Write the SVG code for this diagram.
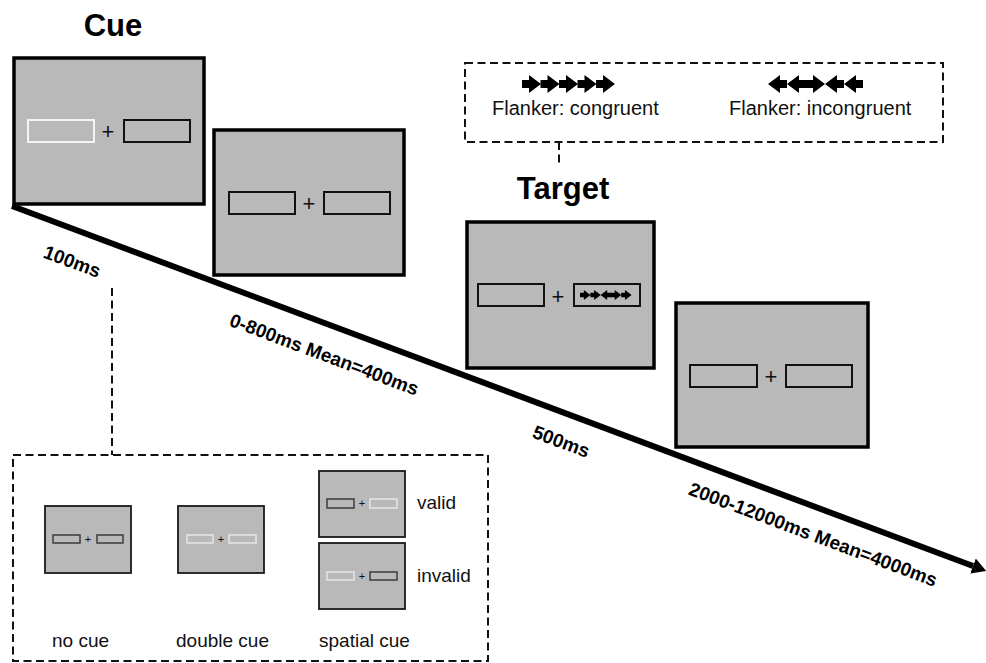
<svg xmlns="http://www.w3.org/2000/svg" xmlns:xlink="http://www.w3.org/1999/xlink" width="986" height="663" viewBox="0 0 986 663">
<defs>
<style>
.frame{fill:#b9b9b9;stroke:#000;stroke-width:3.5}
.sframe{fill:#b9b9b9;stroke:#1a1a1a;stroke-width:1.8}
.ibk{fill:none;stroke:#111;stroke-width:2}
.iwh{fill:none;stroke:#f4f4f4;stroke-width:2}
.sbk{fill:none;stroke:#333;stroke-width:1.4}
.swh{fill:none;stroke:#eaeaea;stroke-width:1.4}
.plus{font-family:"Liberation Sans",Arial,sans-serif;font-size:22px;fill:#111;text-anchor:middle}
.splus{font-family:"Liberation Sans",Arial,sans-serif;font-size:11px;fill:#111;text-anchor:middle}
.title{font-family:"Liberation Sans",Arial,sans-serif;font-size:31px;font-weight:bold;fill:#000}
.tl{font-family:"Liberation Sans",Arial,sans-serif;font-size:19px;font-weight:bold;fill:#000;text-anchor:middle}
.lbl{font-family:"Liberation Sans",Arial,sans-serif;font-size:19px;fill:#111}
.flk{font-family:"Liberation Sans",Arial,sans-serif;font-size:20px;fill:#111}
.dash{fill:none;stroke:#111;stroke-width:2;stroke-dasharray:8 4.5}
</style>
<path id="ar" d="M0,-4 H7 V-9 L19,0 L7,9 V4 H0 Z" fill="#000"/>
<marker id="head" markerUnits="userSpaceOnUse" viewBox="0 0 14 16" refX="0" refY="8" markerWidth="14" markerHeight="16" orient="auto">
<path d="M0,0 L14,8 L0,16 Z" fill="#000"/>
</marker>
</defs>
<rect width="986" height="663" fill="#fff"/>

<g id="connectors">
<line x1="12" y1="206" x2="973" y2="566" stroke="#000" stroke-width="6" marker-end="url(#head)"/>
<line class="dash" x1="112" y1="288" x2="112" y2="455"/>
<line class="dash" x1="559" y1="142" x2="559" y2="166"/>
</g>

<g id="timeline-labels">
<text class="tl" transform="translate(72,262) rotate(20.6)" y="6">100ms</text>
<text class="tl" transform="translate(324,355) rotate(20.6)" y="6">0-800ms Mean=400ms</text>
<text class="tl" transform="translate(561,442) rotate(20.6)" y="6">500ms</text>
<text class="tl" transform="translate(813,535) rotate(20.6)" y="6">2000-12000ms Mean=4000ms</text>
</g>

<g id="cue-title"><text class="title" x="113" y="36" text-anchor="middle">Cue</text></g>
<g id="target-title"><text class="title" x="563" y="199" text-anchor="middle">Target</text></g>

<g id="frame-cue">
<rect class="frame" x="14" y="58" width="190" height="146"/>
<rect class="iwh" x="28" y="120" width="66" height="22"/>
<rect class="ibk" x="124" y="120" width="66" height="22"/>
<text class="plus" x="108" y="139">+</text>
</g>

<g id="frame-fixation1">
<rect class="frame" x="214" y="130" width="190" height="145"/>
<rect class="ibk" x="229" y="192" width="66" height="22"/>
<rect class="ibk" x="324" y="192" width="66" height="22"/>
<text class="plus" x="309" y="211">+</text>
</g>

<g id="frame-target">
<rect class="frame" x="467" y="222" width="187" height="146"/>
<rect class="ibk" x="478" y="284" width="66" height="22"/>
<rect class="ibk" x="574" y="284" width="66" height="22"/>
<text class="plus" x="558" y="304">+</text>
<g transform="translate(580,295) scale(0.55)">
<use xlink:href="#ar" x="0"/>
<use xlink:href="#ar" x="18.7"/>
<use xlink:href="#ar" transform="translate(56.4,0) scale(-1,1)"/>
<use xlink:href="#ar" x="56.1"/>
<use xlink:href="#ar" x="74.8"/>
</g>
</g>

<g id="frame-fixation2">
<rect class="frame" x="676" y="303" width="192" height="144"/>
<rect class="ibk" x="690" y="365" width="67" height="22"/>
<rect class="ibk" x="786" y="365" width="66" height="22"/>
<text class="plus" x="771" y="384">+</text>
</g>

<g id="flanker-box">
<rect class="dash" x="465" y="63" width="478" height="79"/>
<g transform="translate(522,84)">
<use xlink:href="#ar" x="0"/>
<use xlink:href="#ar" x="18.5"/>
<use xlink:href="#ar" x="37"/>
<use xlink:href="#ar" x="55.5"/>
<use xlink:href="#ar" x="74"/>
</g>
<g transform="translate(768,84)">
<use xlink:href="#ar" transform="translate(19,0) scale(-1,1)"/>
<use xlink:href="#ar" transform="translate(38,0) scale(-1,1)"/>
<use xlink:href="#ar" x="38"/>
<use xlink:href="#ar" transform="translate(76,0) scale(-1,1)"/>
<use xlink:href="#ar" transform="translate(95,0) scale(-1,1)"/>
</g>
<text class="flk" x="492" y="115">Flanker: congruent</text>
<text class="flk" x="729" y="115">Flanker: incongruent</text>
</g>

<g id="cue-types-box">
<rect class="dash" x="13" y="455" width="475" height="206"/>
<g id="no-cue">
<rect class="sframe" x="45" y="506" width="86" height="67"/>
<rect class="sbk" x="53" y="535" width="27" height="8"/>
<rect class="sbk" x="97" y="535" width="26" height="8"/>
<text class="splus" x="88" y="543">+</text>
<text class="lbl" x="52" y="647">no cue</text>
</g>
<g id="double-cue">
<rect class="sframe" x="178" y="506" width="86" height="67"/>
<rect class="swh" x="187" y="535" width="26" height="8"/>
<rect class="swh" x="229" y="535" width="27" height="8"/>
<text class="splus" x="221" y="543">+</text>
<text class="lbl" x="176" y="647">double cue</text>
</g>
<g id="spatial-cue">
<rect class="sframe" x="319" y="471" width="86" height="66"/>
<rect class="sbk" x="327" y="499" width="27" height="9"/>
<rect class="swh" x="370" y="499" width="27" height="9"/>
<text class="splus" x="362" y="507">+</text>
<rect class="sframe" x="319" y="543" width="86" height="66"/>
<rect class="swh" x="327" y="572" width="27" height="8"/>
<rect class="sbk" x="370" y="572" width="27" height="8"/>
<text class="splus" x="362" y="580">+</text>
<text class="lbl" x="417" y="509">valid</text>
<text class="lbl" x="417" y="582">invalid</text>
<text class="lbl" x="319" y="647">spatial cue</text>
</g>
</g>
</svg>
